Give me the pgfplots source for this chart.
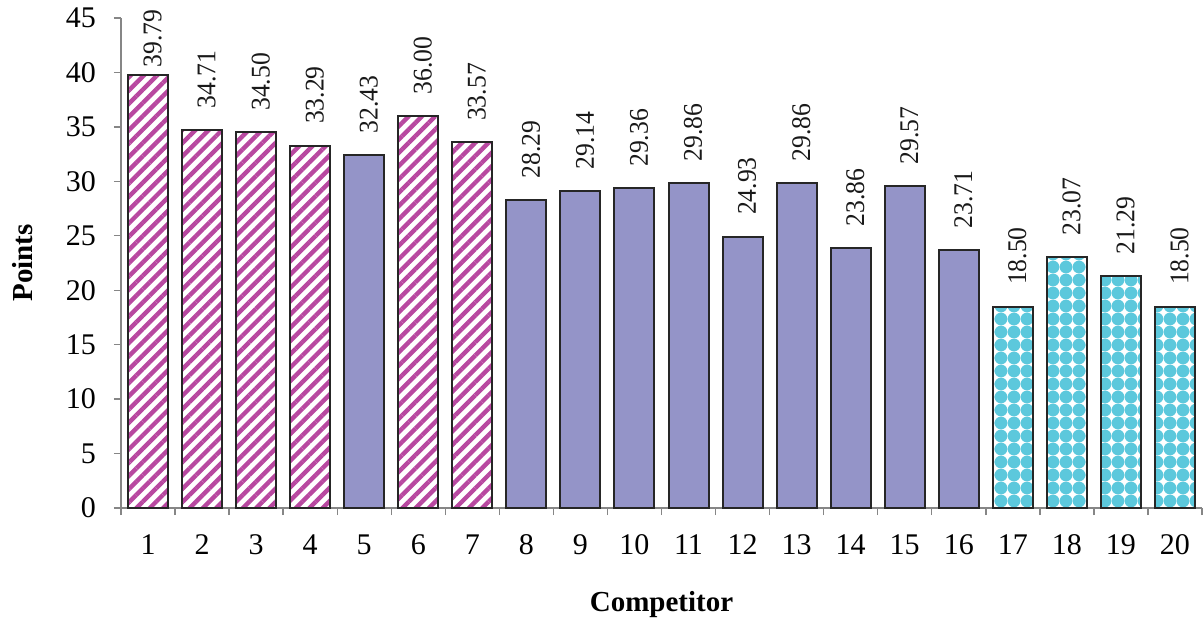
\documentclass[border=0pt]{standalone}
\usepackage{fontspec}
\setmainfont{Liberation Serif}
\newfontfamily\vfont[FakeStretch=0.95]{Liberation Serif}
\usepackage{pgfplots}
\pgfplotsset{compat=1.18}
\usetikzlibrary{patterns.meta}
\definecolor{barpurple}{RGB}{148,148,200}
\definecolor{stripemag}{RGB}{184,72,160}
\definecolor{bubcyan}{RGB}{92,200,220}
\definecolor{axgray}{RGB}{134,134,134}
\begin{document}
\begin{tikzpicture}
\begin{axis}[
  name=ax,
  scale only axis,
  width=540.5bp, height=245bp,
  xmin=0.5, xmax=20.5, ymin=0, ymax=45,
  axis lines*=left,
  axis line style={axgray, line width=0.7bp},
  xtick={1,...,20},
  major x tick style={draw=none},
  minor xtick={0.5,1.5,...,20.5},
  minor tick length=3.5bp,
  ytick={0,5,...,45},
  major tick length=3.5bp,
  tick align=outside,
  tick style={axgray, line width=0.7bp},
  tick label style={font=\fontsize{15bp}{18bp}\selectfont},
  /pgf/number format/assume math mode=true,
  yticklabel style={xshift=-5.5bp},
  xticklabel style={yshift=-6.5bp},
  xlabel={\textbf{Competitor}},
  ylabel={\textbf{Points}},
  every axis x label/.style={at={(axis description cs:0.5,-0.2122)}, anchor=base, font=\fontsize{14.5bp}{17bp}\selectfont},
  every axis y label/.style={at={(axis description cs:-0.0823,0.5)}, rotate=90, anchor=base, font=\fontsize{14.5bp}{17bp}\selectfont},
  bar width=20bp,
  clip=false,
  nodes near coords={\pgfmathprintnumber[fixed,fixed zerofill,precision=2,assume math mode=true]{\pgfplotspointmeta}},
  every node near coord/.append style={font=\vfont\fontsize{13.5bp}{16bp}\selectfont, inner sep=0pt, xshift=2.3bp, yshift=10.3bp, rotate=90, anchor=west, text=black!90},
]
% competitor 1 (label clamped at top)
\addplot[ybar, bar shift=0pt, draw=black!85, line width=1bp,
  pattern={Lines[angle=45,distance=4.7bp,line width=2.2bp]}, pattern color=stripemag,
  every node near coord/.append style={xshift=-7bp}]
  coordinates {(1,39.79)};
% striped
\addplot[ybar, bar shift=0pt, draw=black!85, line width=1bp,
  pattern={Lines[angle=45,distance=4.7bp,line width=2.2bp]}, pattern color=stripemag]
  coordinates {(2,34.71) (3,34.50) (4,33.29) (6,36.00) (7,33.57)};
% solid
\addplot[ybar, bar shift=0pt, draw=black!85, line width=1bp, fill=barpurple]
  coordinates {(5,32.43) (8,28.29) (9,29.14) (10,29.36) (11,29.86) (12,24.93) (13,29.86) (14,23.86) (15,29.57) (16,23.71)};
% bubbles
\addplot[ybar, bar shift=0pt, draw=black!85, line width=1bp,
  pattern={Dots[distance=6.5bp,radius=3.2bp]}, pattern color=bubcyan]
  coordinates {(17,18.50) (18,23.07) (19,21.29) (20,18.50)};
\end{axis}
\pgfresetboundingbox
\path ([shift={(-60.5bp,-55bp)}]ax.south west) rectangle ([shift={(1bp,9bp)}]ax.north east);
\end{tikzpicture}
\end{document}
